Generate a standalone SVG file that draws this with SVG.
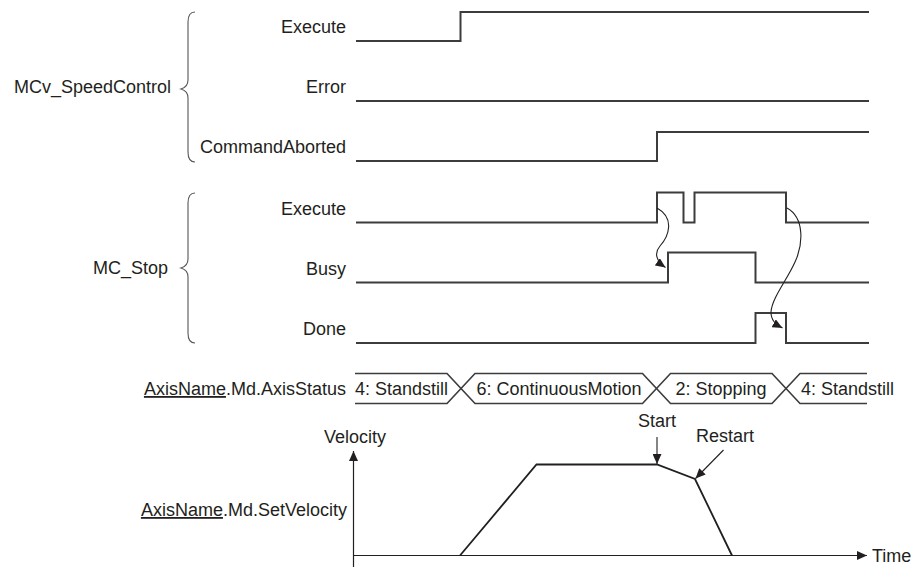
<svg xmlns="http://www.w3.org/2000/svg" width="912" height="567" viewBox="0 0 912 567">
<defs>
<style>
text{font-family:"Liberation Sans",Arial,sans-serif;font-size:18px;fill:#231f20}
.end{text-anchor:end}
.mid{text-anchor:middle}
.sig{fill:none;stroke:#3c3c3c;stroke-width:2;stroke-linejoin:miter}
.brace{fill:none;stroke:#555;stroke-width:1.1}
.bar{fill:none;stroke:#3c3c3c;stroke-width:1.6}
.ax{fill:none;stroke:#231f20;stroke-width:1.2}
.prof{fill:none;stroke:#231f20;stroke-width:1.8;stroke-linejoin:miter}
.conn{fill:none;stroke:#231f20;stroke-width:1.1}
.u{text-decoration:underline}
</style>
<marker id="ah" viewBox="0 0 10 9" refX="10" refY="4.5" markerWidth="10" markerHeight="9" markerUnits="userSpaceOnUse" orient="auto">
<path d="M0,0 L10,4.5 L0,9 z" fill="#231f20"/>
</marker>
</defs>

<g id="group-speedcontrol">
<text class="end" x="171" y="93">MCv_SpeedControl</text>
<path class="brace" d="M195,12 Q188,12 188,22 L188,80 Q188,87 181,89 Q188,91 188,98 L188,152 Q188,162 195,162"/>
</g>
<g id="group-stop">
<text class="end" x="168" y="274">MC_Stop</text>
<path class="brace" d="M195,193 Q188,193 188,203 L188,259 Q188,266 181,268 Q188,270 188,277 L188,333 Q188,343 195,343"/>
</g>

<g id="sig-sc-execute">
<text class="end" x="346" y="33">Execute</text>
<path class="sig" d="M356,41 H460.5 V12 H869"/>
</g>
<g id="sig-sc-error">
<text class="end" x="346" y="93">Error</text>
<path class="sig" d="M356,101 H869"/>
</g>
<g id="sig-sc-aborted">
<text class="end" x="346" y="153">CommandAborted</text>
<path class="sig" d="M356,161 H657 V132 H869"/>
</g>
<g id="sig-st-execute">
<text class="end" x="346" y="215">Execute</text>
<path class="sig" d="M356,222.5 H657 V192.5 H683.5 V222.5 H694.5 V192.5 H786 V222.5 H869"/>
</g>
<g id="sig-st-busy">
<text class="end" x="346" y="275">Busy</text>
<path class="sig" d="M356,282.5 H668 V252.5 H755.5 V282.5 H869"/>
</g>
<g id="sig-st-done">
<text class="end" x="346" y="335">Done</text>
<path class="sig" d="M356,343 H755.5 V313 H786 V343 H869"/>
</g>

<g id="axis-status">
<text class="end" x="346" y="395"><tspan class="u">AxisName</tspan>.Md.AxisStatus</text>
<path class="bar" d="M355,373.5 H447 L475,403.5 H642.5 L670.5,373.5 H772 L800,403.5 H867"/>
<path class="bar" d="M355,403.5 H447 L475,373.5 H642.5 L670.5,403.5 H772 L800,373.5 H867"/>
<text x="355" y="395">4: Standstill</text>
<text class="mid" x="559" y="395">6: ContinuousMotion</text>
<text class="mid" x="721" y="395">2: Stopping</text>
<text x="801" y="395">4: Standstill</text>
</g>

<g id="velocity-chart">
<text class="mid" x="355" y="443">Velocity</text>
<text class="end" x="347" y="516">
<tspan class="u">AxisName</tspan>.Md.SetVelocity</text>
<path class="ax" d="M353.5,567 V451" marker-end="url(#ah)"/>
<path class="ax" d="M353.5,555.5 H867" marker-end="url(#ah)"/>
<text x="872" y="561.5">Time</text>
<path class="prof" d="M460,555.5 L536.5,464.5 H657 L695,479 L732,555.5"/>
<text class="mid" x="657" y="427">Start</text>
<text class="mid" x="725" y="442">Restart</text>
</g>

<g id="connectors">
<path class="conn" d="M657,208 C675,218 669,236 660,246 C654,253 656,261 665.5,267.5" marker-end="url(#ah)"/>
<path class="conn" d="M787,208 C805,218 803,245 795,262 C787,280 772,298 771,312 C771,320 775,324 782.5,328" marker-end="url(#ah)"/>
<path class="conn" d="M657,437 V464" marker-end="url(#ah)"/>
<path class="conn" d="M723.5,450 L695.5,478.5" marker-end="url(#ah)"/>
</g>
</svg>
